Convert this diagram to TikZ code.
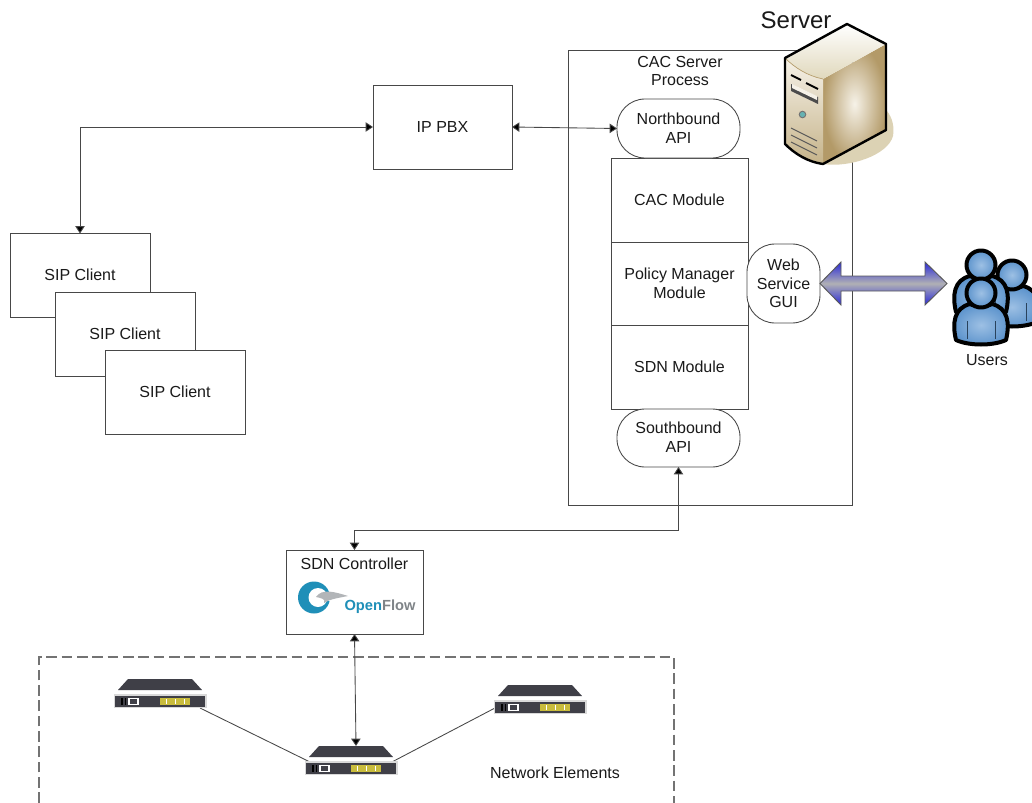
\documentclass[tikz,border=0pt]{standalone}
\usepackage{fontspec}
\setmainfont{Liberation Sans}
\usetikzlibrary{arrows.meta,shadings}
\definecolor{ln}{HTML}{484848}
\definecolor{txt}{HTML}{1A1A1A}
\definecolor{dev}{HTML}{3F3F47}
\definecolor{devy}{HTML}{C9BC3C}
\definecolor{ofblue}{HTML}{1F8FB8}
\definecolor{ofgray}{HTML}{7F8488}
\definecolor{ublue}{HTML}{5C93CC}
\definecolor{ulight}{HTML}{9DC0E4}
\definecolor{tan1}{HTML}{E0D8BC}
\definecolor{tan2}{HTML}{B39A68}
\definecolor{tan3}{HTML}{F6F2E8}
\definecolor{arblue}{HTML}{2A2AD8}
\definecolor{argray}{HTML}{B0B0B4}
\tikzset{
  x=0.75pt,y=-0.75pt,
  wh/.style 2 args={minimum width=#1*0.75pt,minimum height=#2*0.75pt},
  base/.style={inner sep=0pt,outer sep=0pt,align=center,text=txt,font=\fontsize{12}{14}\selectfont},
  box/.style={base,draw=ln,line width=0.65pt,fill=white},
  pill/.style={box,rounded corners=21pt},
  label/.style={base},
  link/.style={draw=ln,line width=0.65pt},
  arr/.style={link,{Triangle[length=5.5pt,width=7pt,fill=black]}-{Triangle[length=5.5pt,width=7pt,fill=black]}},
  devline/.style={draw=ln,line width=0.65pt},
  person/.style={draw=black,line width=3pt,line join=round,inner color=ulight,outer color=ublue}
}
\newcommand{\netdev}[2]{% x,y (centre of the gap)
  \begin{scope}[shift={(#1,#2)}]
    \fill[dev] (-32,-14) -- (32,-14) -- (42,-3) -- (-42,-3) -- cycle;
    \fill[black!15] (-46.5,1) rectangle (46.5,15);
    \fill[dev] (-45,3) rectangle (45,14);
    \fill[black] (-39,5) rectangle (-37.5,12);
    \fill[black] (-35.5,5) rectangle (-34,12);
    \draw[white,line width=0.8pt,fill=dev] (-31,5.5) rectangle (-22,11.5);
    \fill[devy] (0,5) rectangle (30,12);
    \foreach \k in {6,15,24}{\draw[white,line width=0.6pt] (\k,6) -- (\k,11);}
  \end{scope}}
\newcommand{\oneperson}[2]{%
  \begin{scope}[shift={(#1,#2)}]
    \path[person] (-25,47) .. controls (-29,30) and (-27,15) .. (-11,11)
      .. controls (-5,14) and (5,14) .. (11,11)
      .. controls (27,15) and (29,30) .. (25,47)
      .. controls (12,53) and (-12,53) .. (-25,47) -- cycle;
    \path[person] (0,0) circle (14.5);
    \draw[black!55!ublue,line width=0.6pt] (-14,28) -- (-14,46) (14,28) -- (14,46);
  \end{scope}}
\begin{document}
\begin{tikzpicture}
\useasboundingbox (0,0) rectangle (1032,803);
\fill[white] (0,0) rectangle (1032,803);

% CAC process frame
\node[box,wh={284}{455}] (frame) at (710,277.5) {};
\node[label] (proc) at (680,71) {CAC Server\\Process};
\node[label,font=\fontsize{18}{20}\selectfont] (srv) at (796,20) {Server};

% server icon
\fill[tan1!90!tan2] (860,98) .. controls (885,100) and (896,118) .. (893,136)
  .. controls (888,155) and (850,168) .. (823,164) -- cycle;
\path[inner color=tan3,outer color=tan2]
  (823,79) -- (886,44) -- (886,130) -- (823,164) -- cycle;
\path[top color=white,bottom color=tan1] (785,58) -- (847,24) -- (886,44) -- (823,79)
  .. controls (808,76) and (795,68) .. (785,58) -- cycle;
\path[top color=tan3,bottom color=tan2!60!tan1] (785,58)
  .. controls (795,68) and (808,76) .. (823,79) -- (823,164)
  .. controls (808,162) and (795,154) .. (785,144) -- cycle;
\draw[tan2,line width=0.5pt] (785,58) .. controls (795,68) and (808,76) .. (823,79);
\draw[black,line width=1.8pt,line join=round] (785,58) -- (847,24) -- (886,44) -- (886,130)
  -- (823,164) .. controls (808,162) and (795,154) .. (785,144) -- cycle;
\draw[black,line width=1.5pt] (791,75) -- (801,80) (806,83) -- (818,89);
\fill[black!70] (791,84) -- (818,97) -- (818,104) -- (791,91) -- cycle;
\fill[tan3] (792,84) -- (817,96) -- (817,100) -- (792,88) -- cycle;
\fill[black!55] (802.5,114.5) circle (3.8);
\fill[teal!60!white] (802.5,114.5) circle (2.6);
\foreach \d in {0,7,14}{\draw[black!65,line width=0.7pt] (791,128+\d) -- (817,141+\d);}

% module stack
\node[box,wh={137}{84}] (cac) at (679.5,200) {CAC Module};
\node[box,wh={137}{83}] (pol) at (679.5,283.5) {Policy Manager\\Module};
\node[box,wh={137}{84}] (sdn) at (679.5,367) {SDN Module};
\node[pill,wh={123}{59}] (north) at (678.5,128.5) {Northbound\\API};
\node[pill,wh={123}{58}] (south) at (678.5,438) {\raisebox{0.75pt}{Southbound}\\\raisebox{0.75pt}{API}};
\node[pill,wh={73}{79}] (web) at (783.5,283.5) {Web\\Service\\GUI};

% IP PBX and clients
\node[box,wh={139}{84}] (pbx) at (442.5,127) {IP PBX};
\node[box,wh={140}{84}] (sip1) at (80,275.5) {\raisebox{1.5pt}{SIP Client}};
\node[box,wh={140}{84}] (sip2) at (125,334) {\raisebox{0.75pt}{SIP Client}};
\node[box,wh={140}{84}] (sip3) at (175,392) {\raisebox{0.75pt}{SIP Client}};

% SDN controller
\node[box,wh={137}{84}] (ctrl) at (354.5,592) {};
\node[label] (ctrllab) at (354.5,563.5) {SDN Controller};
\fill[ofblue] (314,597.5) circle (16);
\fill[white] (318,597.5) circle (9.5);
\fill[white] (318,597) -- (337,588) -- (337,604) -- cycle;
\fill[ofgray!60] (316,597) .. controls (322,588) and (335,592) .. (348,596)
  .. controls (338,598) and (330,599) .. (324,603) .. controls (326,599) and (321,598) .. (316,597) -- cycle;
\node[label,font=\fontsize{11}{12}\selectfont\bfseries,text=ofblue] (oflogo) at (380,606.5) {Open\textcolor{ofgray}{Flow}};

% network elements
\draw[dash pattern=on 8pt off 3.5pt,draw=black!55,line width=0.9pt] (39,803) -- (39,657) -- (674,657) -- (674,803);
\coordinate (daR) at (200,708);
\coordinate (dbL) at (310,762);
\coordinate (dbR) at (390,763);
\coordinate (dcL) at (495,708);
\coordinate (dbT) at (356,746);
\draw[devline] (daR) -- (dbL);
\draw[devline] (dbR) -- (dcL);
\netdev{160}{693}
\netdev{351}{760}
\netdev{540}{699}
\node[label] (nelab) at (555,773) {Network Elements};

% connectors
\draw[arr] (pbx.west) -| (sip1.north);
\draw[arr] (pbx.east) -- (north.west);
\coordinate (jog) at (354.5,530);
\draw[arr] (south.south) |- (jog) -- (ctrl.north);
\draw[arr] (ctrl.south) -- (dbT);

% users
\oneperson{1012}{275}
\oneperson{981}{265}
\oneperson{981}{293}
\node[label] (users) at (987,360) {Users};

% big double arrow
\path[top color=arblue,bottom color=arblue,middle color=argray,draw=black!65,line width=0.7pt]
  (820,283.5) -- (841,262) -- (841,276) -- (925,276) -- (925,262) -- (947,283.5)
  -- (925,305) -- (925,291) -- (841,291) -- (841,305) -- cycle;
\end{tikzpicture}
\end{document}
